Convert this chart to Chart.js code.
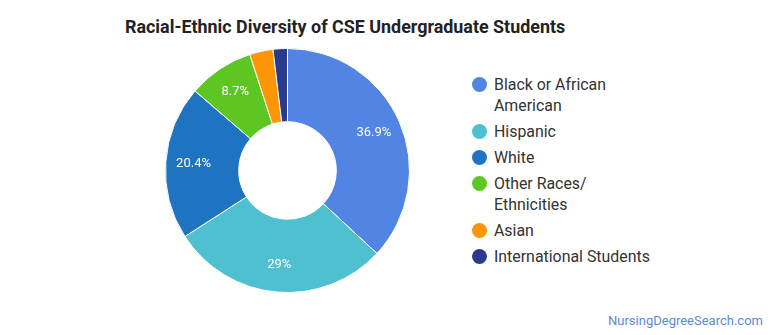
<!DOCTYPE html>
<html>
<head>
<meta charset="utf-8">
<script src="https://cdn.jsdelivr.net/npm/chart.js@4/dist/chart.umd.min.js"></script>
<style>
  html, body { margin: 0; padding: 0; background: #fff; }
  body { width: 770px; height: 335px; position: relative; overflow: hidden; font-family: Roboto, "Open Sans", sans-serif; }
  .title { position: absolute; left: 125px; top: 16px; font-size: 17.9px; font-weight: bold; color: #222; }
  .chart-box { position: absolute; left: 165px; top: 48px; width: 245px; height: 245px; }
  .legend { position: absolute; left: 472px; top: 74px; list-style: none; margin: 0; padding: 0; }
  .legend li { position: relative; padding-left: 22px; margin-bottom: 5px; font-size: 15.9px; line-height: 21px; color: #333; width: 190px; }
  .legend .dot { position: absolute; left: 0; top: 3px; width: 15px; height: 15px; border-radius: 50%; }
  .source { position: absolute; right: 7px; top: 313px; font-size: 13px; color: #5b8bd8; }
</style>
</head>
<body>
<div class="title">Racial-Ethnic Diversity of CSE Undergraduate Students</div>
<div class="chart-box"><canvas id="diversityChart"></canvas></div>
<ul class="legend" id="legend"></ul>
<div class="source">NursingDegreeSearch.com</div>

<script>
const groups = ["Black or African American", "Hispanic", "White", "Other Races/ Ethnicities", "Asian", "International Students"];
const legendLines = [["Black or African", "American"], ["Hispanic"], ["White"], ["Other Races/", "Ethnicities"], ["Asian"], ["International Students"]];
const shares = [36.9, 29, 20.4, 8.7, 3.1, 1.9];
const sliceColors = ["#5285e3", "#4fc0cf", "#1f74c1", "#5ec623", "#fd9504", "#2a3a8f"];

// only label slices that have room for the text
const MIN_LABEL_SHARE = 5;

const sliceLabels = {
  id: "sliceLabels",
  afterDatasetsDraw(chart) {
    const { ctx } = chart;
    const meta = chart.getDatasetMeta(0);
    ctx.save();
    ctx.font = "13px Roboto, sans-serif";
    ctx.fillStyle = "#fff";
    ctx.textAlign = "center";
    ctx.textBaseline = "middle";
    meta.data.forEach((arc, i) => {
      const value = chart.data.datasets[0].data[i];
      if (value < MIN_LABEL_SHARE) return;
      const { x, y, startAngle, endAngle, innerRadius, outerRadius } = arc.getProps(["x", "y", "startAngle", "endAngle", "innerRadius", "outerRadius"], true);
      const mid = (startAngle + endAngle) / 2;
      // sit a little outside the middle of the ring
      const r = innerRadius + (outerRadius - innerRadius) * 0.62;
      ctx.fillText(`${value}%`, x + Math.cos(mid) * r, y + Math.sin(mid) * r);
    });
    ctx.restore();
  }
};

new Chart(document.getElementById("diversityChart"), {
  type: "doughnut",
  data: {
    labels: groups,
    datasets: [{
      data: shares,
      backgroundColor: sliceColors,
      borderColor: "#fff",
      borderWidth: 1
    }]
  },
  options: {
    responsive: true,
    maintainAspectRatio: false,
    animation: false,
    cutout: "40%",
    layout: { padding: 0 },
    plugins: { legend: { display: false }, tooltip: { enabled: false } }
  },
  plugins: [sliceLabels]
});

const legendEl = document.getElementById("legend");
legendLines.forEach((lines, i) => {
  const li = document.createElement("li");
  const dot = document.createElement("span");
  dot.className = "dot";
  dot.style.background = sliceColors[i];
  li.appendChild(dot);
  li.appendChild(document.createTextNode(lines[0]));
  for (let j = 1; j < lines.length; j++) {
    li.appendChild(document.createElement("br"));
    li.appendChild(document.createTextNode(lines[j]));
  }
  legendEl.appendChild(li);
});
</script>
</body>
</html>
